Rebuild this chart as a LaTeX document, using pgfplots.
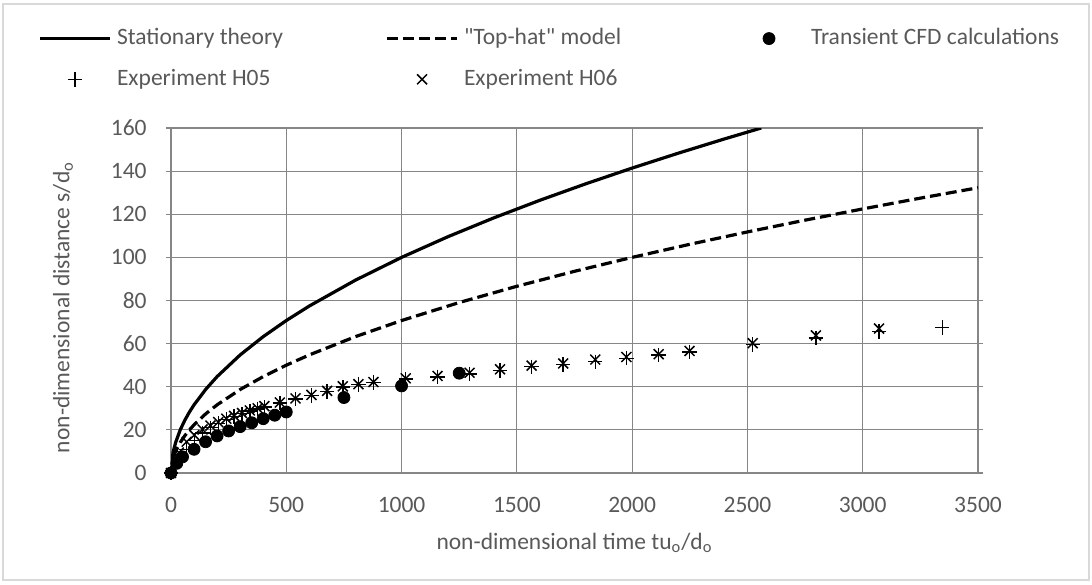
\documentclass[border=0pt]{standalone}
\usepackage{fontspec}
\setmainfont{Carlito}
\newfontfamily\qfont{Carlito}
\usepackage{pgfplots}
\pgfplotsset{compat=1.18}
\definecolor{txt}{RGB}{89,89,89}
\definecolor{grd}{RGB}{134,134,134}
\definecolor{brd}{RGB}{217,217,217}
\newcommand{\fs}{\fontsize{11.75}{14}\selectfont}
\pgfplotsset{
  lineleg/.style={legend image code/.code={\path[draw=none,fill=none] (0pt,-4pt) rectangle (35pt,4pt); \draw[##1, overlay] (0pt,0pt) -- (35pt,0pt);}},
  markleg/.style={legend image code/.code={\path[draw=none,fill=none] (0pt,-4pt) rectangle (35pt,4pt); \draw[##1, overlay] plot coordinates {(17.5pt,0pt)};}},
}
\begin{document}
\fs
\begin{tikzpicture}[x=1pt,y=1pt]
\path[use as bounding box] (0,0) rectangle (546,-292);
\draw[brd, line width=0.6pt] (1.5,-2) rectangle (544.5,-290);
\begin{axis}[
  at={(85.5pt,-236.5pt)}, anchor=south west,
  scale only axis, width=403.5pt, height=172.5pt,
  xmin=0, xmax=3500, ymin=0, ymax=160,
  xtick={0,500,...,3500}, ytick={0,20,...,160},
  grid=major, major grid style={grd, line width=0.6pt},
  axis line style={grd, line width=0.6pt},
  tick align=outside, xtick style={draw=none}, ytick style={grd, line width=0.6pt},
  major tick length=2.5pt,
  /pgf/number format/assume math mode=true,
  /pgf/number format/1000 sep={},
  tick label style={font=\fs, text=txt, inner sep=0pt},
  xticklabel style={yshift=-9.25pt},
  yticklabel style={xshift=-9.5pt},
  xlabel={non-dimensional time tu\textsubscript{o}/d\textsubscript{o}},
  ylabel={non-dimensional distance s/d\textsubscript{o}},
  label style={font=\fs, text=txt, inner sep=0pt},
  xlabel style={at={(axis description cs:0.5,0)}, anchor=center, yshift=-35pt},
  ylabel style={at={(axis description cs:-0.1338,0.48)}, anchor=center},
  legend columns=3,
  legend style={draw=none, fill=none, at={(axis description cs:-0.1623,1.288)}, anchor=north west,
    inner sep=0pt, outer sep=0pt, row sep=10.5pt, column sep=0pt,
    nodes={inner sep=0pt, text=txt, font=\fs}},
  legend cell align=left,
  clip mode=individual,
]
\addplot[black, line width=1.6pt, lineleg] coordinates {
(0,0) (5,7.07) (10,10) (20,14.14) (40,20) (60,24.49) (80,28.28) (100,31.62) (150,38.73) (200,44.72) (300,54.77) (400,63.25) (500,70.71) (600,77.46) (800,89.44) (1000,100) (1200,109.54) (1400,118.32) (1600,126.49) (1800,134.16) (2000,141.42) (2200,148.32) (2400,154.92) (2560,160)};
\addlegendentry{\makebox[138.5pt][l]{\hspace{3.5pt}Stationary theory}}
\addplot[black, line width=1.6pt, dash pattern=on 5.5pt off 2.5pt, lineleg] coordinates {
(0,0) (5,5) (10,7.07) (20,10) (40,14.14) (60,17.32) (80,20) (100,22.36) (150,27.39) (200,31.62) (300,38.73) (400,44.72) (500,50) (600,54.77) (800,63.25) (1000,70.71) (1250,79.06) (1500,86.60) (1750,93.54) (2000,100) (2250,106.07) (2500,111.80) (2750,117.26) (3000,122.47) (3250,127.48) (3500,132.29)};
\addlegendentry{\makebox[138.5pt][l]{\hspace{3.5pt}{\qfont "Top-hat" model}}}
\addplot[only marks, mark=*, mark size=3pt, black, markleg] coordinates {
(0,0) (25,4.5) (50,7.5) (100,11) (150,14.5) (200,17.2) (250,19.5) (300,21.5) (350,23.3) (400,25.2) (450,26.8) (500,28.3) (750,35) (1000,40.4) (1250,46.3)};
\addlegendentry{\makebox[138.5pt][l]{\hspace{3.5pt}Transient CFD calculations}}
\addplot[only marks, mark=+, mark size=3.6pt, line width=0.75pt, black, markleg] coordinates {
(0,0) (34,6) (68,11) (101,15) (137,18.5) (171,21) (205,23) (240,24.8) (274,26.2) (308,27.5) (342,28.7) (376,29.8) (405,30.5) (472,32.4) (540,34.3) (609,36) (677,37.8) (745,39.8) (813,41) (878,42) (1018,43.5) (1156,44.6) (1295,46) (1427,47.6) (1564,49.3) (1701,50.3) (1840,51.6) (1975,53.2) (2115,54.7) (2249,56.2) (2523,59.6) (2797,62.6) (3071,65.6) (3345,67.4)};
\addlegendentry{\makebox[138.5pt][l]{\hspace{3.5pt}Experiment H05}}
\addplot[only marks, mark=x, mark size=3.5pt, line width=0.75pt, black, markleg] coordinates {
(0,0) (34,9.5) (68,14.5) (101,17.6) (137,20.2) (171,22) (205,23.6) (240,25.2) (274,26.5) (308,27.8) (342,29) (376,30) (405,31) (472,32.7) (540,34.6) (609,36.2) (677,38.1) (745,40.2) (813,41.2) (878,42.2) (1018,43.9) (1156,45) (1295,46.5) (1427,48.1) (1564,49.8) (1701,50.8) (1840,52.6) (1975,53.8) (2115,55.1) (2249,56.6) (2523,60.2) (2797,63.8) (3071,67)};
\addlegendentry{\makebox[138.5pt][l]{\hspace{3.5pt}Experiment H06}}
\end{axis}
\end{tikzpicture}
\end{document}
